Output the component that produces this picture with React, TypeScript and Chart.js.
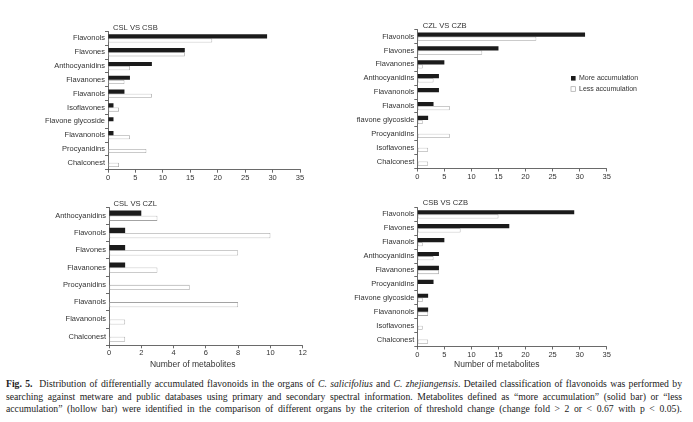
import React, { useEffect, useRef } from "react";
import { Chart, registerables } from "chart.js";

Chart.register(...registerables);

// ---------------- DATA ----------------
const seriesNames = ["More accumulation", "Less accumulation"];

const p1Title = "CSL VS CSB";
const p1Categories = ["Flavonols", "Flavones", "Anthocyanidins", "Flavanones", "Flavanols", "Isoflavones", "Flavone glycoside", "Flavanonols", "Procyanidins", "Chalconest"];
const p1More = [29, 14, 8, 4, 3, 1, 1, 1, 0, 0];
const p1Less = [19, 14, 4, 3, 8, 2, 0, 4, 7, 2];

const p2Title = "CZL VS CZB";
const p2Categories = ["Flavonols", "Flavones", "Flavanones", "Anthocyanidins", "Flavanonols", "Flavanols", "flavone glycoside", "Procyanidins", "Isoflavones", "Chalconest"];
const p2More = [31, 15, 5, 4, 4, 3, 2, 0, 0, 0];
const p2Less = [22, 12, 1, 3, 0, 6, 1, 6, 2, 2];

const p3Title = "CSL VS CZL";
const p3Categories = ["Anthocyanidins", "Flavonols", "Flavones", "Flavanones", "Procyanidins", "Flavanols", "Flavanonols", "Chalconest"];
const p3More = [2, 1, 1, 1, 0, 0, 0, 0];
const p3Less = [3, 10, 8, 3, 5, 8, 1, 1];

const p4Title = "CSB VS CZB";
const p4Categories = ["Flavonols", "Flavones", "Flavanols", "Anthocyanidins", "Flavanones", "Procyanidins", "Flavone glycoside", "Flavanonols", "Isoflavones", "Chalconest"];
const p4More = [29, 17, 5, 4, 4, 3, 2, 2, 0, 0];
const p4Less = [15, 8, 1, 3, 4, 0, 1, 2, 1, 2];

const wideAxisMax = 35;
const wideAxisStep = 5;
const narrowAxisMax = 12;
const narrowAxisStep = 2;

const xAxisTitle = "Number of metabolites";

// ---------------- STYLE ----------------
const SANS = '"Liberation Sans", Arial, Helvetica, sans-serif';
const SERIF = '"Liberation Serif", "Times New Roman", serif';
const TEXT = "#333333";
const AXIS = "#444444";
const SOLID = "#1b1b1b";
const HOLLOW_BORDER = "#a3a3a3";

type PanelCfg = {
  title: string;
  categories: string[];
  more: number[];
  less: number[];
  max: number;
  step: number;
  showXTitle: boolean;
  showLegend: boolean;
  box: { left: number; top: number; width: number; height: number };
  pad: { left: number; right: number; top: number; bottom: number };
  yWidth: number;
  xHeight: number;
  titleDx: number;
  titleDy: number;
  xTitleDx: number;
  xTitleDy: number;
};

const panels: PanelCfg[] = [
  {
    title: p1Title, categories: p1Categories, more: p1More, less: p1Less,
    max: wideAxisMax, step: wideAxisStep, showXTitle: false, showLegend: false,
    box: { left: 0, top: 0, width: 346, height: 190 },
    pad: { left: 0, right: 46, top: 31.5, bottom: 4.3 },
    yWidth: 108, xHeight: 16, titleDx: 5, titleDy: -3.4, xTitleDx: 0, xTitleDy: 0,
  },
  {
    title: p2Title, categories: p2Categories, more: p2More, less: p2Less,
    max: wideAxisMax, step: wideAxisStep, showXTitle: false, showLegend: true,
    box: { left: 346, top: 0, width: 347, height: 190 },
    pad: { left: 0, right: 86.3, top: 29.7, bottom: 5.5 },
    yWidth: 71.3, xHeight: 16, titleDx: 5.4, titleDy: -4.2, xTitleDx: 0, xTitleDy: 0,
  },
  {
    title: p3Title, categories: p3Categories, more: p3More, less: p3Less,
    max: narrowAxisMax, step: narrowAxisStep, showXTitle: true, showLegend: false,
    box: { left: 0, top: 190, width: 346, height: 185 },
    pad: { left: 0, right: 43.3, top: 17.1, bottom: 3.7 },
    yWidth: 109, xHeight: 26, titleDx: 4.5, titleDy: -3, xTitleDx: -13.2, xTitleDy: 19.7,
  },
  {
    title: p4Title, categories: p4Categories, more: p4More, less: p4Less,
    max: wideAxisMax, step: wideAxisStep, showXTitle: true, showLegend: false,
    box: { left: 346, top: 190, width: 347, height: 185 },
    pad: { left: 0, right: 86.3, top: 17.4, bottom: 2.5 },
    yWidth: 71.3, xHeight: 26, titleDx: 5.5, titleDy: -4, xTitleDx: -15.2, xTitleDy: 18,
  },
];

// Custom plugin: panel title, x-axis title and legend
const panelText = {
  id: "panelText",
  afterDraw(chart: any, _args: any, opts: any) {
    const { ctx, chartArea } = chart;
    ctx.save();
    ctx.fillStyle = TEXT;
    ctx.textBaseline = "middle";
    ctx.textAlign = "left";
    ctx.font = `7.6px ${SANS}`;
    ctx.fillText(opts.title, chartArea.left + opts.titleDx, chartArea.top + opts.titleDy);
    if (opts.showXTitle) {
      ctx.font = `8.5px ${SANS}`;
      ctx.textAlign = "center";
      ctx.fillText(opts.xTitle, (chartArea.left + chartArea.right) / 2 + opts.xTitleDx, chartArea.bottom + opts.xTitleDy);
    }
    if (opts.showLegend) {
      const x0 = chartArea.left + 153.7;
      const y0 = chartArea.top + 48.6;
      chart.data.datasets.forEach((ds: any, i: number) => {
        const y = y0 + i * 10.7;
        ctx.fillStyle = ds.backgroundColor;
        ctx.fillRect(x0, y - 2.3, 4.6, 4.6);
        if (ds.borderWidth > 0) {
          ctx.strokeStyle = ds.borderColor;
          ctx.lineWidth = 0.7;
          ctx.strokeRect(x0, y - 2.3, 4.6, 4.6);
        }
        ctx.fillStyle = TEXT;
        ctx.font = `7px ${SANS}`;
        ctx.textAlign = "left";
        ctx.fillText(ds.label, x0 + 8, y);
      });
    }
    ctx.restore();
  },
};

function Panel({ cfg }: { cfg: PanelCfg }) {
  const ref = useRef<HTMLCanvasElement | null>(null);
  useEffect(() => {
    if (!ref.current) return;
    const tickFont = { family: SANS, size: 7.5 };
    const chart = new Chart(ref.current, {
      type: "bar",
      data: {
        labels: cfg.categories,
        datasets: [
          {
            label: seriesNames[0],
            data: cfg.more,
            backgroundColor: SOLID,
            borderColor: SOLID,
            borderWidth: 0,
            categoryPercentage: 0.6,
            barPercentage: 1,
          },
          {
            label: seriesNames[1],
            data: cfg.less,
            backgroundColor: "#ffffff",
            borderColor: HOLLOW_BORDER,
            borderWidth: 0.8,
            borderSkipped: false,
            categoryPercentage: 0.6,
            barPercentage: 1,
          },
        ],
      },
      options: {
        indexAxis: "y",
        responsive: false,
        animation: false,
        devicePixelRatio: window.devicePixelRatio || 1,
        layout: { padding: cfg.pad },
        plugins: {
          legend: { display: false },
          tooltip: { enabled: false },
          title: { display: false },
          // @ts-ignore
          panelText: {
            title: cfg.title,
            showXTitle: cfg.showXTitle,
            xTitle: xAxisTitle,
            showLegend: cfg.showLegend,
            titleDx: cfg.titleDx,
            titleDy: cfg.titleDy,
            xTitleDx: cfg.xTitleDx,
            xTitleDy: cfg.xTitleDy,
          },
        },
        scales: {
          x: {
            type: "linear",
            min: 0,
            max: cfg.max,
            ticks: { stepSize: cfg.step, font: tickFont, color: TEXT, padding: 0.5 },
            grid: { drawOnChartArea: false, drawTicks: true, tickLength: 3, color: AXIS, lineWidth: 0.8 },
            border: { display: true, color: AXIS, width: 0.8 },
            afterFit: (s: any) => { s.height = cfg.xHeight; },
          },
          y: {
            type: "category",
            ticks: { font: tickFont, color: TEXT, padding: 0, autoSkip: false },
            grid: { offset: true, drawOnChartArea: false, drawTicks: true, tickLength: 3, color: AXIS, lineWidth: 0.8 },
            border: { display: true, color: AXIS, width: 0.8 },
            afterFit: (s: any) => { s.width = cfg.yWidth; },
          },
        },
      } as any,
      plugins: [panelText as any],
    });
    return () => chart.destroy();
  }, [cfg]);
  return (
    <canvas
      ref={ref}
      width={cfg.box.width}
      height={cfg.box.height}
      style={{ position: "absolute", left: cfg.box.left, top: cfg.box.top, width: cfg.box.width, height: cfg.box.height }}
    />
  );
}

const lineStyle: React.CSSProperties = { textAlign: "justify", textAlignLast: "justify" as any, whiteSpace: "normal", height: "12.5px", overflow: "visible" };

export default function App() {
  return (
    <div style={{ position: "absolute", left: 0, top: 0, width: 693, height: 422, background: "#ffffff", overflow: "hidden" }}>
      {panels.map((p, i) => (
        <Panel key={i} cfg={p} />
      ))}
      <div
        style={{
          position: "absolute",
          left: 6,
          top: 378,
          width: 676,
          fontFamily: SERIF,
          fontSize: 9.7,
          lineHeight: "12.5px",
          color: "#222222",
        }}
      >
        <div style={lineStyle}>
          <b>Fig. 5.</b>&nbsp; Distribution of differentially accumulated flavonoids in the organs of <i>C. salicifolius</i> and <i>C. zhejiangensis</i>. Detailed classification of flavonoids was performed by
        </div>
        <div style={lineStyle}>
          searching against metware and public databases using primary and secondary spectral information. Metabolites defined as “more accumulation” (solid bar) or “less
        </div>
        <div style={lineStyle}>
          accumulation” (hollow bar) were identified in the comparison of different organs by the criterion of threshold change (change fold &gt; 2 or &lt; 0.67 with p &lt; 0.05).
        </div>
      </div>
    </div>
  );
}
